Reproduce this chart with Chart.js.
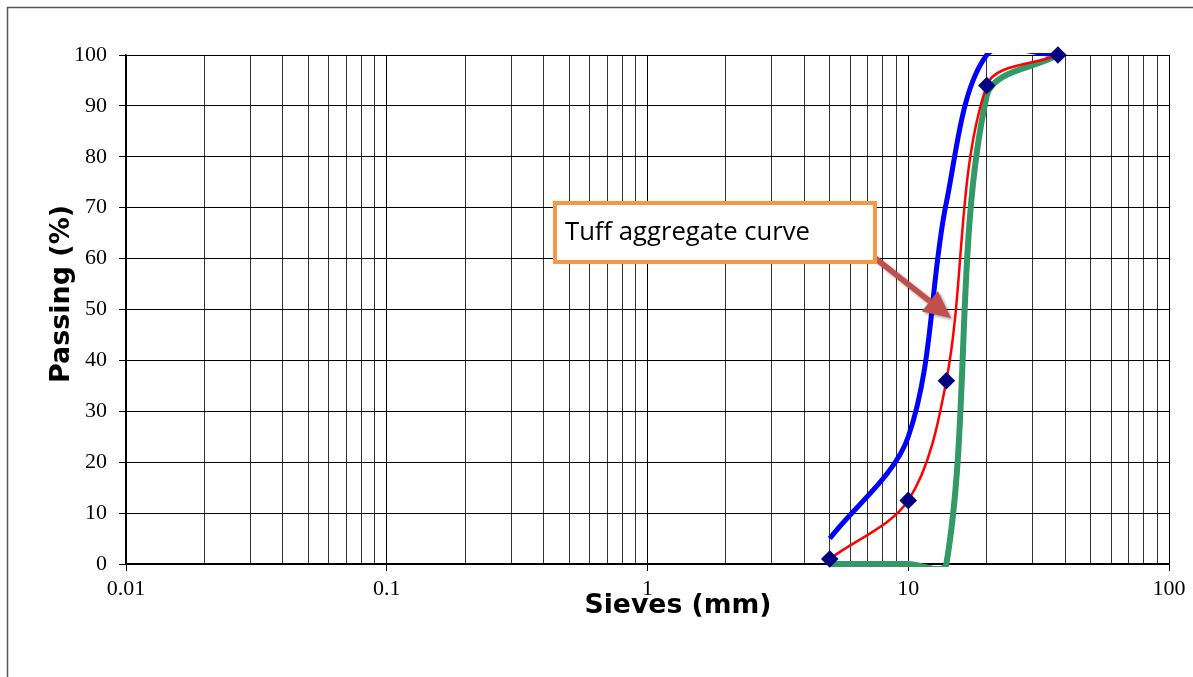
<!DOCTYPE html>
<html><head><meta charset="utf-8">
<script src="https://cdn.jsdelivr.net/npm/chart.js@4/dist/chart.umd.min.js"></script>
<style>html,body{margin:0;padding:0;background:#fff;overflow:hidden}</style>
</head><body>
<canvas id="c" width="1193" height="677"></canvas>
<script>
// ---- data ----
const sieves = [5, 10, 14, 20, 37.5];
const tuffPassing = [1, 12.5, 36, 94, 100];
const upperLimit = [5, 25, 71, 100, 100];
const lowerLimit = [0, 0, 0, 92, 100];
const xTickValues = [0.01,0.02,0.03,0.04,0.05,0.06,0.07,0.08,0.09,
  0.1,0.2,0.3,0.4,0.5,0.6,0.7,0.8,0.9,
  1,2,3,4,5,6,7,8,9,
  10,20,30,40,50,60,70,80,90,100];
const xTickLabels = {0.01:'0.01', 0.1:'0.1', 1:'1', 10:'10', 100:'100'};
const yTickValues = [0,10,20,30,40,50,60,70,80,90,100];
const xTitle = 'Sieves (mm)';
const yTitle = 'Passing (%)';
const calloutText = 'Tuff aggregate curve';

const isDecade = v => { const l = Math.log10(v); return Math.abs(l - Math.round(l)) < 1e-9; };
const pts = ys => sieves.map((x, i) => ({x: x, y: ys[i]}));

const decor = {
  id: 'decor',
  beforeDraw(chart) {
    const c = chart.ctx;
    c.save();
    c.fillStyle = '#fff';
    c.fillRect(0, 0, chart.width, chart.height);
    c.strokeStyle = '#555';
    c.lineWidth = 1.5;
    c.beginPath();
    c.moveTo(7.5, 677); c.lineTo(7.5, 7.5); c.lineTo(1193, 7.5);
    c.stroke();
    c.restore();
  },
  afterDatasetsDraw(chart) {
    const c = chart.ctx;
    c.save();
    const x1 = 875, y1 = 258, x2 = 951, y2 = 318;
    const ang = Math.atan2(y2 - y1, x2 - x1);
    const hl = 27, hw = 13;
    const bx = x2 - hl * Math.cos(ang), by = y2 - hl * Math.sin(ang);
    c.shadowColor = 'rgba(0,0,0,0.35)';
    c.shadowOffsetX = 2; c.shadowOffsetY = 2; c.shadowBlur = 3;
    c.strokeStyle = '#C0504D';
    c.fillStyle = '#C0504D';
    c.lineWidth = 5.5;
    c.beginPath(); c.moveTo(x1, y1); c.lineTo(bx, by); c.stroke();
    c.beginPath();
    c.moveTo(x2, y2);
    c.lineTo(bx + hw * Math.sin(ang), by - hw * Math.cos(ang));
    c.lineTo(bx - hw * Math.sin(ang), by + hw * Math.cos(ang));
    c.closePath(); c.fill();
    c.shadowColor = 'transparent';
    c.fillStyle = '#fff';
    c.fillRect(553, 202, 324, 60);
    c.strokeStyle = '#F79646';
    c.lineWidth = 4;
    c.strokeRect(555, 203, 320, 59);
    c.fillStyle = '#000';
    let fs = 24;
    c.font = fs + 'px "Open Sans"';
    fs = fs * 245 / c.measureText(calloutText).width;
    c.font = fs + 'px "Open Sans"';
    c.textBaseline = 'alphabetic';
    c.textAlign = 'left';
    c.fillText(calloutText, 565, 240);
    c.restore();
  },
  afterDraw(chart) {
    const c = chart.ctx;
    c.save();
    c.fillStyle = '#000';
    c.textAlign = 'center';
    c.textBaseline = 'middle';
    let fs = 24;
    c.font = 'bold ' + fs + 'px "DejaVu Sans"';
    fs = fs * 187 / c.measureText(xTitle).width;
    c.font = 'bold ' + fs + 'px "DejaVu Sans"';
    c.fillText(xTitle, 678, 606);
    fs = 24;
    c.font = 'bold ' + fs + 'px "DejaVu Sans"';
    fs = fs * 178 / c.measureText(yTitle).width;
    c.font = 'bold ' + fs + 'px "DejaVu Sans"';
    c.translate(62, 294);
    c.rotate(-Math.PI / 2);
    c.fillText(yTitle, 0, 0);
    c.restore();
  }
};

new Chart(document.getElementById('c'), {
  type: 'scatter',
  data: {
    datasets: [
      {label: 'Tuff aggregate', data: pts(tuffPassing), showLine: true, borderColor: '#FF0000', borderWidth: 2.5,
       pointStyle: 'rectRot', pointRadius: 7, pointBackgroundColor: '#000080', pointBorderColor: '#000080',
       tension: 0.33, clip: false, order: 0},
      {label: 'Lower limit', data: pts(lowerLimit), showLine: true, borderColor: '#339966', borderWidth: 6,
       pointRadius: 0, tension: 0.33, clip: {left: 5, right: 5, top: 5, bottom: 3}, order: 1},
      {label: 'Upper limit', data: pts(upperLimit), showLine: true, borderColor: '#0000FF', borderWidth: 5,
       pointRadius: 0, tension: 0.33, clip: {left: 5, right: 5, top: 2, bottom: 5}, order: 2}
    ]
  },
  options: {
    responsive: false,
    animation: false,
    layout: {padding: {top: 55, right: 24, left: 0, bottom: 0}},
    elements: {line: {capBezierPoints: false}},
    plugins: {legend: {display: false}, tooltip: {enabled: false}},
    scales: {
      x: {
        type: 'logarithmic', min: 0.01, max: 100,
        afterBuildTicks: s => { s.ticks = xTickValues.map(v => ({value: v})); },
        afterFit: s => { s.height = 677 - 564; },
        ticks: {
          callback: v => xTickLabels[v] || '',
          autoSkip: false, maxRotation: 0, minRotation: 0,
          font: {family: 'Liberation Serif', size: 22}, color: '#000', padding: 5
        },
        grid: {
          color: ctx => (ctx.tick && isDecade(ctx.tick.value)) ? '#000' : '#333',
          lineWidth: 1,
          tickLength: 7,
          tickColor: ctx => (ctx.tick && isDecade(ctx.tick.value)) ? '#000' : 'rgba(0,0,0,0)'
        },
        border: {color: '#000', width: 1.5}
      },
      y: {
        min: 0, max: 100,
        afterBuildTicks: s => { s.ticks = yTickValues.map(v => ({value: v})); },
        afterFit: s => { s.width = 126; },
        ticks: {font: {family: 'Liberation Serif', size: 22}, color: '#000', padding: 12},
        grid: {color: '#000', lineWidth: 1, tickLength: 7, tickColor: '#000'},
        border: {color: '#000', width: 1.5}
      }
    }
  },
  plugins: [decor]
});
</script>
</body></html>
